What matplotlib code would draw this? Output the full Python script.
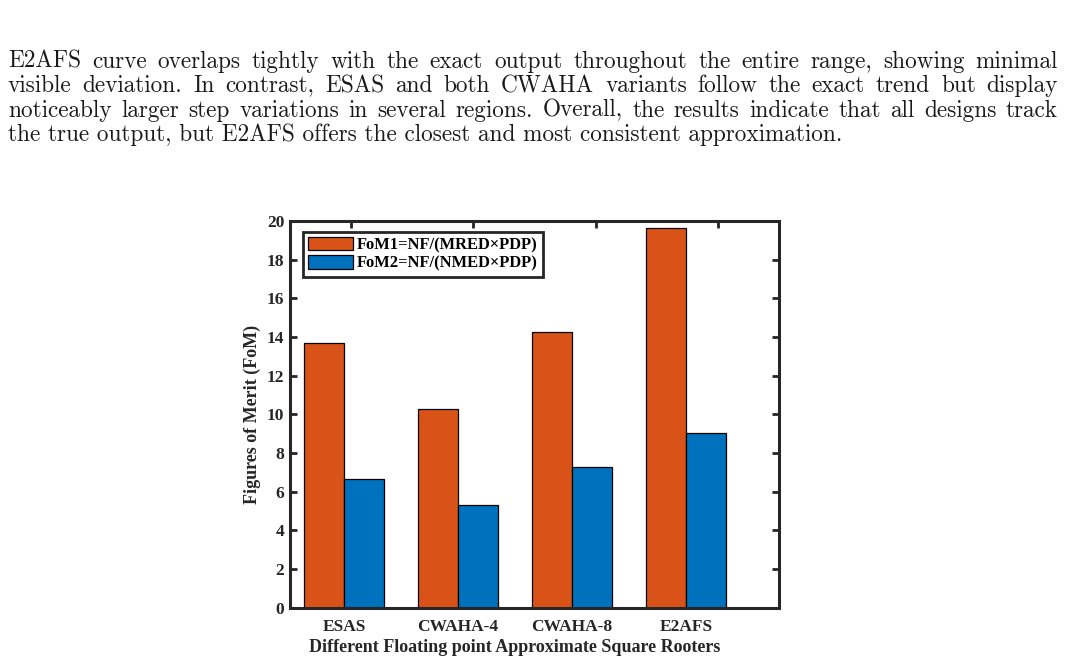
import numpy as np
import matplotlib
matplotlib.use("Agg")
import matplotlib.pyplot as plt

# ========= data =========
categories = ["ESAS", "CWAHA-4", "CWAHA-8", "E2AFS"]
fom1 = [13.68, 10.28, 14.28, 19.63]   # FoM1=NF/(MRED x PDP)
fom2 = [6.64, 5.30, 7.27, 9.03]       # FoM2=NF/(NMED x PDP)
legend_labels = ["FoM1=NF/(MRED\u00d7PDP)", "FoM2=NF/(NMED\u00d7PDP)"]
yticks = [0, 2, 4, 6, 8, 10, 12, 14, 16, 18, 20]

paragraph = [
    "E2AFS curve overlaps tightly with the exact output throughout the entire range, showing minimal",
    "visible deviation.  In contrast, ESAS and both CWAHA variants follow the exact trend but display",
    "noticeably larger step variations in several regions.  Overall, the results indicate that all designs track",
    "the true output, but E2AFS offers the closest and most consistent approximation.",
]

W, H = 1066, 665
ORANGE = "#D95319"
BLUE = "#0072BD"
DARK = "#262626"
SERIF = ["Liberation Serif", "DejaVu Serif"]

fig = plt.figure(figsize=(W / 100, H / 100), dpi=100)

# ========= paragraph (justified) =========
renderer = fig.canvas.get_renderer()
left_px, right_px = 8, 1058
baselines = [68, 92.3, 116.6, 141]
for i, line in enumerate(paragraph):
    y = 1 - baselines[i] / H
    if i == len(paragraph) - 1:
        fig.text(left_px / W, y, line, fontfamily="cmr10", fontsize=16.75,
                 va="baseline", color="#1a1a1a")
        continue
    words = line.split()
    texts = [fig.text(0, y, w, fontfamily="cmr10", fontsize=16.75,
                      va="baseline", color="#1a1a1a") for w in words]
    widths = [t.get_window_extent(renderer).width for t in texts]
    gap = (right_px - left_px - sum(widths)) / (len(words) - 1)
    x = left_px
    for t, w in zip(texts, widths):
        t.set_x(x / W)
        x += w + gap

# ========= chart =========
ax_l, ax_r, ax_t, ax_b = 290, 779, 221, 607.7
ax = fig.add_axes([ax_l / W, 1 - ax_b / H, (ax_r - ax_l) / W, (ax_b - ax_t) / H])

px_per_unit = 114.0
x0 = 1 - (344 - ax_l) / px_per_unit
ax.set_xlim(x0, x0 + (ax_r - ax_l) / px_per_unit)
ax.set_ylim(0, 20)

x = np.arange(1, len(categories) + 1)
bw = 40 / px_per_unit
ax.bar(x - bw / 2, fom1, bw, color=ORANGE, edgecolor="black", linewidth=0.9,
       label=legend_labels[0], zorder=2)
ax.bar(x + bw / 2, fom2, bw, color=BLUE, edgecolor="black", linewidth=0.9,
       label=legend_labels[1], zorder=2)

ax.set_yticks(yticks)
ax.set_xticks(x)
ax.set_xticklabels(categories)
for lab in ax.get_xticklabels() + ax.get_yticklabels():
    lab.set_fontfamily(SERIF)
    lab.set_fontweight("bold")
    lab.set_fontsize(12.5)
    lab.set_color(DARK)
ax.tick_params(axis="x", length=0, pad=8)
ax.tick_params(axis="y", direction="in", length=5, width=2, color=DARK,
               right=True, pad=4)

for sp in ax.spines.values():
    sp.set_linewidth(2.2)
    sp.set_color(DARK)

# top ticks from the second axis
top = ax.twiny()
top.set_xlim(0.5, 4.5)
top.set_xticks(x)
top.set_xticklabels([])
top.tick_params(axis="x", direction="in", length=5, width=2, color=DARK)
for sp in top.spines.values():
    sp.set_visible(False)

ax.set_ylabel("Figures of Merit (FoM)", fontfamily=SERIF, fontweight="bold",
              fontsize=13, color=DARK)
ax.yaxis.set_label_coords(-(ax_l - 261) / (ax_r - ax_l), 0.5)
ax.set_xlabel("Different Floating point Approximate Square Rooters",
              fontfamily=SERIF, fontweight="bold", fontsize=13, color=DARK)
ax.xaxis.set_label_coords((515 - ax_l) / (ax_r - ax_l), -(639 - ax_b) / (ax_b - ax_t))

leg = ax.legend(loc="upper left", bbox_to_anchor=(0.026, 0.971), frameon=True,
                fancybox=False, framealpha=1, edgecolor=DARK,
                prop={"family": SERIF, "weight": "bold", "size": 11.9},
                handlelength=2.75, handleheight=0.85, handletextpad=0.25,
                borderpad=0.3, labelspacing=0.12, borderaxespad=0)
leg.get_frame().set_linewidth(2)

fig.savefig("out.png", dpi=100)
